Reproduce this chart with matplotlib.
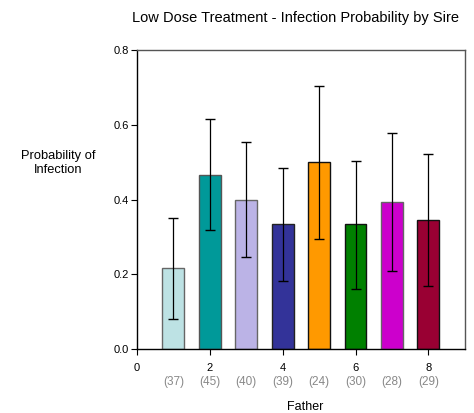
import matplotlib
matplotlib.use("Agg")
import matplotlib.pyplot as plt

plt.rcParams['font.family'] = ['Liberation Sans', 'DejaVu Sans']

fathers = [1, 2, 3, 4, 5, 6, 7, 8]
prob = [0.217, 0.467, 0.400, 0.334, 0.500, 0.334, 0.393, 0.345]
err_hi = [0.351, 0.615, 0.554, 0.484, 0.704, 0.504, 0.578, 0.521]
err_lo = [0.081, 0.319, 0.246, 0.183, 0.296, 0.162, 0.209, 0.168]
counts = ["(37)", "(45)", "(40)", "(39)", "(24)", "(30)", "(28)", "(29)"]
colors = ["#bde2e4", "#009999", "#bbb3e6", "#333399", "#ff9900", "#008000", "#cc00cc", "#990033"]
edges = ["#666666", "#555555", "#666666", "#222222", "#111111", "#111111", "#666666", "#111111"]
xticks = [0, 2, 4, 6, 8]
yticks = [0.0, 0.2, 0.4, 0.6, 0.8]

fig = plt.figure(figsize=(4.74, 4.13), dpi=100)
ax = fig.add_axes([137/474, 1 - 349.3/413, (464.8-137)/474, (349.3-50)/413])

ax.bar(fathers, prob, width=0.6, color=colors, edgecolor=edges, linewidth=1.0, zorder=2)
yerr = [[p - lo for p, lo in zip(prob, err_lo)], [hi - p for p, hi in zip(prob, err_hi)]]
ax.errorbar(fathers, prob, yerr=yerr, fmt='none', ecolor='black', elinewidth=0.9,
            capsize=3.5, capthick=1.0, zorder=3)

ax.set_xlim(0, 9)
ax.set_ylim(0, 0.8)
ax.set_xticks(xticks)
ax.set_xticklabels([str(t) for t in xticks], fontsize=8)
ax.set_yticks(yticks)
ax.set_yticklabels([f"{t:.1f}" for t in yticks], fontsize=8)
ax.tick_params(axis='both', direction='out', length=4, width=0.8)
ax.tick_params(axis='y', pad=1.5)
ax.tick_params(axis='x', pad=6)

for s in ['left', 'bottom']:
    ax.spines[s].set_color('black')
    ax.spines[s].set_linewidth(1.0)
for s in ['top', 'right']:
    ax.spines[s].set_color('#555555')
    ax.spines[s].set_linewidth(1.0)

for x, c in zip(fathers, counts):
    ax.text(x, -0.0866, c, ha='center', va='center', fontsize=8.5, color='#888888',
            transform=ax.transData, clip_on=False)

fig.text(296/474, 1 - 18/413, "Low Dose Treatment - Infection Probability by Sire",
         ha='center', va='center', fontsize=10.5)
fig.text(305/474, 1 - 407/413, "Father", ha='center', va='center', fontsize=9)
fig.text(58.5/474, 1 - 163/413, "Probability of\nInfection", ha='center', va='center',
         fontsize=9.3, linespacing=1.2)

fig.savefig("out.png", dpi=100)
